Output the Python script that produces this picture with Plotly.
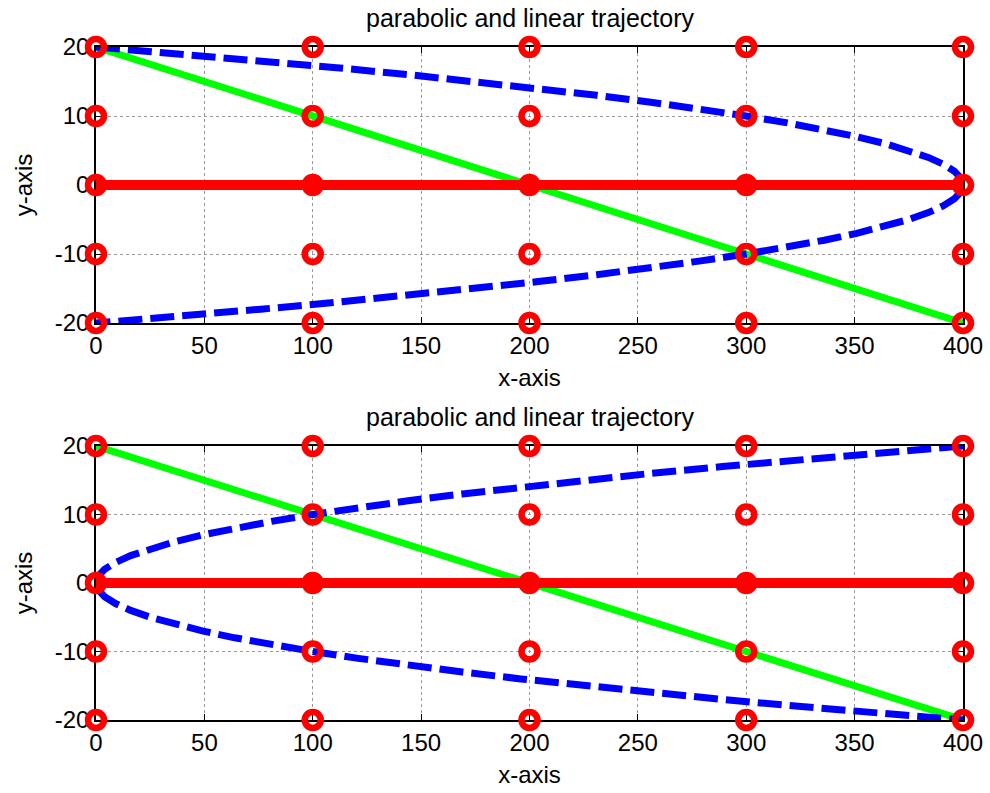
import plotly.graph_objects as go
from plotly.subplots import make_subplots

# Reference grid of circle markers
grid_x = [0, 100, 200, 300, 400]
grid_y = [-20, -10, 0, 10, 20]

# Horizontal baseline
base_x = [0, 400]
base_y = [0, 0]

# Linear trajectory
lin_x = [0, 400]
lin_y = [20, -20]

# Parabolic trajectories (y sampled from 20 down to -20)
para_y = [20, 19, 18, 17, 16, 15, 14, 13, 12, 11, 10, 9, 8, 7, 6, 5, 4, 3, 2, 1, 0,
          -1, -2, -3, -4, -5, -6, -7, -8, -9, -10, -11, -12, -13, -14, -15, -16, -17, -18, -19, -20]
para_x_top = [0, 39, 76, 111, 144, 175, 204, 231, 256, 279, 300, 319, 336, 351, 364, 375, 384, 391, 396, 399, 400,
              399, 396, 391, 384, 375, 364, 351, 336, 319, 300, 279, 256, 231, 204, 175, 144, 111, 76, 39, 0]
para_x_bottom = [400, 361, 324, 289, 256, 225, 196, 169, 144, 121, 100, 81, 64, 49, 36, 25, 16, 9, 4, 1, 0,
                 1, 4, 9, 16, 25, 36, 49, 64, 81, 100, 121, 144, 169, 196, 225, 256, 289, 324, 361, 400]

x_ticks = [0, 50, 100, 150, 200, 250, 300, 350, 400]
y_ticks = [-20, -10, 0, 10, 20]
title_text = "parabolic and linear trajectory"

FONT = "Liberation Sans, Arial, sans-serif"

fig = make_subplots(rows=2, cols=1, vertical_spacing=0.0)

gx = [x for y in grid_y for x in grid_x]
gy = [y for y in grid_y for x in grid_x]

for row, para_x in ((1, para_x_top), (2, para_x_bottom)):
    fig.add_trace(go.Scatter(x=lin_x, y=lin_y, mode="lines",
                             line=dict(color="#00ff00", width=7),
                             cliponaxis=False, showlegend=False), row=row, col=1)
    fig.add_trace(go.Scatter(x=para_x, y=para_y, mode="lines",
                             line=dict(color="#0000ff", width=7, dash="24px,8px"),
                             cliponaxis=False, showlegend=False), row=row, col=1)
    fig.add_trace(go.Scatter(x=base_x, y=base_y, mode="lines",
                             line=dict(color="#ff0000", width=10),
                             cliponaxis=False, showlegend=False), row=row, col=1)
    fig.add_trace(go.Scatter(x=gx, y=gy, mode="markers",
                             marker=dict(symbol="circle-open", size=16, color="#ff0000",
                                         line=dict(width=6.5, color="#ff0000")),
                             cliponaxis=False, showlegend=False), row=row, col=1)

H = 793
mt, mb = 47, 73
ph = H - mt - mb
top_dom = [(H - mb - 323) / ph, 1.0]
bot_dom = [0.0, (H - mb - 446) / ph]

axis_common = dict(
    showline=True, linecolor="black", linewidth=1.5, mirror="ticks",
    ticks="inside", ticklen=6, tickcolor="black", tickwidth=1,
    showgrid=True, gridcolor="#9a9a9a", griddash="dot", gridwidth=1,
    zeroline=False, layer="below traces", automargin=False,
    tickfont=dict(family=FONT, size=24, color="black"),
)

for ax in ("xaxis", "xaxis2"):
    fig.update_layout({ax: dict(axis_common, range=[0, 400], tickvals=x_ticks,
                                ticktext=[str(v) for v in x_ticks],
                                title=dict(text="x-axis", standoff=12,
                                           font=dict(family=FONT, size=24, color="black")))})
for ax, dom in (("yaxis", top_dom), ("yaxis2", bot_dom)):
    fig.update_layout({ax: dict(axis_common, range=[-20, 20], tickvals=y_ticks,
                                ticktext=[str(v) for v in y_ticks], domain=dom,
                                title=dict(text="y-axis", standoff=15,
                                           font=dict(family=FONT, size=24, color="black")))})

for dom in (top_dom, bot_dom):
    fig.add_annotation(text=title_text, xref="paper", yref="paper", x=0.5, y=dom[1],
                       yshift=29, xanchor="center", yanchor="middle", showarrow=False,
                       font=dict(family=FONT, size=25, color="black"))

fig.update_layout(
    width=990, height=H,
    margin=dict(l=96, r=27, t=mt, b=mb),
    paper_bgcolor="white", plot_bgcolor="white",
    showlegend=False,
)

fig.write_html("out.html")
